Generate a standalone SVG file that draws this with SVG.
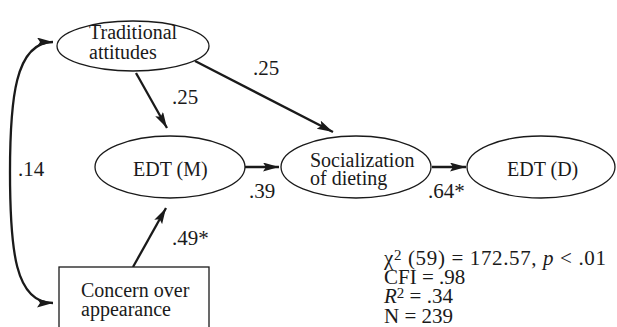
<svg xmlns="http://www.w3.org/2000/svg" width="617" height="327" viewBox="0 0 617 327">
<style>
  .node { fill: #ffffff; stroke: #1a1a1a; stroke-width: 1.3; }
  .t { font-family: "Liberation Serif", "Times New Roman", serif; font-size: 20px; fill: #1a1a1a; }
  .lbl { font-family: "Liberation Serif", "Times New Roman", serif; font-size: 21px; fill: #1a1a1a; }
  .edge { fill: none; stroke: #1a1a1a; stroke-width: 2.3; }
</style>
<defs>
  <marker id="ah" markerUnits="userSpaceOnUse" markerWidth="17" markerHeight="10" refX="16" refY="4.5" orient="auto-start-reverse" viewBox="0 0 17 10">
    <path d="M0,0 L16,4.5 L0,9 L3,4.5 z" fill="#1a1a1a"/>
  </marker>
</defs>
<rect width="617" height="327" fill="#ffffff"/>
<g id="connectors">
  <path class="edge" d="M136 73 L167 128" marker-end="url(#ah)"/>
  <path class="edge" d="M195 61 L333 132" marker-end="url(#ah)"/>
  <path class="edge" d="M245 167 L279 167" marker-end="url(#ah)"/>
  <path class="edge" d="M432 167 L466 167" marker-end="url(#ah)"/>
  <path class="edge" d="M133 267 L166 208" marker-end="url(#ah)"/>
  <path class="edge" d="M53 42 C 15 42, 10 100, 10 172 C 10 250, 15 303, 53 303" marker-start="url(#ah)" marker-end="url(#ah)"/>
</g>
<g id="traditional">
  <ellipse class="node" cx="133" cy="46" rx="76" ry="25"/>
  <text class="t" x="89" y="39">Traditional</text>
  <text class="t" x="89" y="59">attitudes</text>
</g>
<g id="edtm">
  <ellipse class="node" cx="170" cy="167" rx="75" ry="31"/>
  <text class="t" x="133" y="176">EDT (M)</text>
</g>
<g id="socialization">
  <ellipse class="node" cx="356" cy="167" rx="75" ry="31"/>
  <text class="t" x="310" y="167">Socialization</text>
  <text class="t" x="310" y="185">of dieting</text>
</g>
<g id="edtd">
  <ellipse class="node" cx="541" cy="167" rx="74" ry="31"/>
  <text class="t" x="507" y="176">EDT (D)</text>
</g>
<g id="concern">
  <rect class="node" x="59" y="267" width="150" height="64"/>
  <text class="t" x="81" y="297">Concern over</text>
  <text class="t" x="81" y="316">appearance</text>
</g>
<g id="labels">
  <text class="lbl" x="253" y="75">.25</text>
  <text class="lbl" x="172" y="104">.25</text>
  <text class="lbl" x="18" y="176">.14</text>
  <text class="lbl" x="249" y="198">.39</text>
  <text class="lbl" x="428" y="198">.64*</text>
  <text class="lbl" x="172" y="245">.49*</text>
</g>
<g id="stats">
  <text class="lbl" x="384" y="265" textLength="222" lengthAdjust="spacing">χ<tspan font-size="15" dy="-5">2</tspan><tspan dy="5"> (59) = 172.57, </tspan><tspan font-style="italic">p</tspan> &lt; .01</text>
  <text class="lbl" x="384" y="284">CFI = .98</text>
  <text class="lbl" x="384" y="303"><tspan font-style="italic">R</tspan><tspan font-size="15" dy="-5">2</tspan><tspan dy="5"> = .34</tspan></text>
  <text class="lbl" x="384" y="323">N = 239</text>
</g>
</svg>
